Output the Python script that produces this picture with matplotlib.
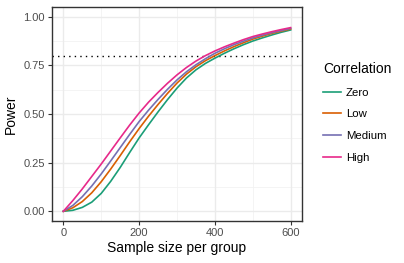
import numpy as np
import matplotlib
matplotlib.use("Agg")
import matplotlib.pyplot as plt

plt.rcParams['font.family'] = ['Liberation Sans', 'DejaVu Sans']

# sample size per group
n = [0, 25, 50, 75, 100, 125, 150, 175, 200, 225, 250, 275, 300,
     325, 350, 375, 400, 425, 450, 475, 500, 525, 550, 575, 600]

# power
zero = [0.000, 0.005, 0.020, 0.047, 0.092, 0.154, 0.225, 0.302, 0.377, 0.445,
        0.511, 0.574, 0.633, 0.685, 0.727, 0.760, 0.787, 0.812, 0.835, 0.856,
        0.875, 0.891, 0.906, 0.920, 0.932]
low = [0.000, 0.018, 0.050, 0.095, 0.152, 0.217, 0.286, 0.357, 0.425, 0.489,
       0.549, 0.606, 0.659, 0.705, 0.743, 0.774, 0.800, 0.824, 0.846, 0.866,
       0.885, 0.900, 0.914, 0.926, 0.937]
medium = [0.000, 0.030, 0.075, 0.130, 0.192, 0.259, 0.327, 0.395, 0.461, 0.520,
          0.575, 0.627, 0.675, 0.717, 0.753, 0.784, 0.812, 0.835, 0.856, 0.874,
          0.891, 0.905, 0.918, 0.929, 0.940]
high = [0.000, 0.055, 0.115, 0.179, 0.243, 0.310, 0.377, 0.443, 0.505, 0.561,
        0.611, 0.658, 0.701, 0.739, 0.772, 0.800, 0.824, 0.845, 0.864, 0.882,
        0.898, 0.911, 0.923, 0.934, 0.944]

labels = ["Zero", "Low", "Medium", "High"]
colors = ["#1B9E77", "#D95F02", "#7570B3", "#E7298A"]
target = 0.8

xticks = [0, 200, 400, 600]
yticks = [0, 0.25, 0.5, 0.75, 1.0]

fig = plt.figure(figsize=(4.04, 2.63), dpi=100)
ax = fig.add_axes([52/404, 1-221/263, 250/404, 214/263])

# grid like theme_bw
for v in [100, 300, 500]:
    ax.axvline(v, color="#F2F2F2", lw=0.6, zorder=0)
for v in [0.125, 0.375, 0.625, 0.875]:
    ax.axhline(v, color="#F2F2F2", lw=0.6, zorder=0)
for v in xticks:
    ax.axvline(v, color="#EBEBEB", lw=1.0, zorder=0)
for v in yticks:
    ax.axhline(v, color="#EBEBEB", lw=1.0, zorder=0)

for ys, lab, c in zip([zero, low, medium, high], labels, colors):
    ax.plot(n, ys, color=c, lw=1.2, label=lab, zorder=3)

ax.axhline(target, color="black", lw=1.0, linestyle=(0, (1, 3)), zorder=2)

ax.set_xlim(-30, 630)
ax.set_ylim(-0.05, 1.05)
ax.set_xticks(xticks)
ax.set_yticks(yticks)
ax.set_yticklabels(["0.00", "0.25", "0.50", "0.75", "1.00"])
ax.tick_params(colors="#333333", labelcolor="#4D4D4D", labelsize=8,
               length=3, width=0.8, pad=2)
for s in ax.spines.values():
    s.set_color("#333333")
    s.set_linewidth(1.0)

ax.set_xlabel("Sample size per group", fontsize=10, labelpad=2)
ax.set_ylabel("Power", fontsize=10, labelpad=4)

leg = ax.legend(title="Correlation", loc="upper left",
                bbox_to_anchor=(323/404, 1-62/263), bbox_transform=fig.transFigure,
                frameon=False, fontsize=8.2, title_fontsize=10,
                handlelength=1.6, handletextpad=0.4, labelspacing=1.03,
                borderaxespad=0, borderpad=0)
leg._legend_box.align = "left"

fig.savefig("out.png", dpi=100)
